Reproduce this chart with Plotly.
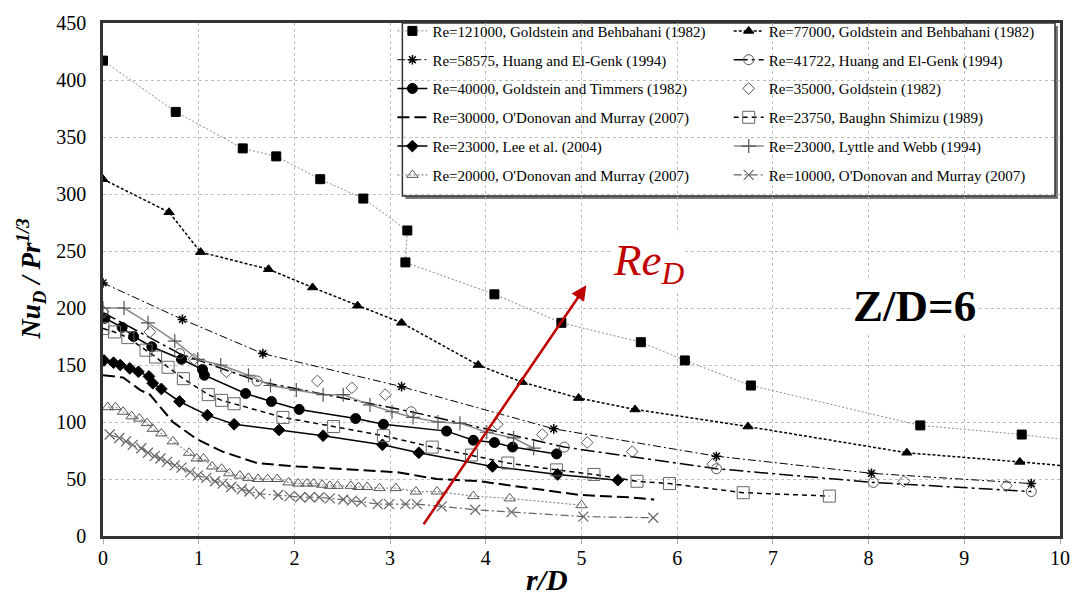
import plotly.graph_objects as go

# ---------------- data ----------------
r_121000 = [0, 0.76, 1.46, 1.81, 2.27, 2.72, 3.18, 3.16, 4.09, 4.79, 5.62, 6.08, 6.77, 8.54, 9.60, 10.4]
nu_121000 = [417, 372, 340, 333, 313, 296, 268, 240, 212, 187, 170, 154, 132, 97, 89, 81]

r_77000 = [0, 0.69, 1.02, 1.73, 2.19, 2.66, 3.12, 3.92, 4.38, 4.97, 5.56, 6.74, 8.40, 9.58, 10.4]
nu_77000 = [313, 284, 249, 234, 218, 202, 187, 150, 135, 121, 111, 96, 73, 65, 59]

r_58575 = [0, 0.83, 1.67, 3.12, 4.71, 6.41, 8.03, 9.70]
nu_58575 = [222, 190, 160, 131, 94, 70, 55, 46]

r_41722 = [0, 0.80, 1.61, 3.22, 4.82, 6.41, 8.05, 9.70]
nu_41722 = [196, 160, 136, 109, 78, 59, 47, 39]

r_40000 = [0.02, 0.20, 0.32, 0.51, 0.82, 1.04, 1.06, 1.49, 1.76, 2.05, 2.64, 2.93, 3.59, 3.87, 4.09, 4.28, 4.74]
nu_40000 = [191, 183, 175, 166, 155, 146, 141, 125, 118, 111, 103, 98, 92, 84, 82, 78, 72]

r_35000 = [0, 0.49, 0.95, 1.29, 2.24, 2.60, 2.95, 4.12, 4.59, 5.06, 5.53, 6.37, 8.37, 9.44]
nu_35000 = [197, 179, 155, 144, 136, 130, 124, 98, 89, 82, 74, 63, 48, 44]

r_30000 = [0, 0.21, 0.39, 0.49, 0.73, 0.98, 1.25, 1.61, 2.03, 2.44, 3.07, 3.49, 3.94, 4.46, 4.98, 5.50, 5.76]
nu_30000 = [141, 139, 128, 124, 100, 85, 74, 64, 61, 59, 56, 50, 48, 42, 36, 34, 32]

r_23750 = [0, 0.12, 0.26, 0.45, 0.55, 0.68, 0.84, 1.10, 1.24, 1.37, 1.88, 2.41, 2.93, 3.44, 3.85, 4.23,
           4.74, 5.13, 5.58, 5.92, 6.69, 7.59]
nu_23750 = [182, 179, 174, 163, 157, 148, 138, 124, 119, 116, 104, 96, 88, 78, 71, 64,
            58, 54, 48, 46, 38, 35]

r_lee = [0.01, 0.11, 0.18, 0.28, 0.37, 0.48, 0.52, 0.61, 0.80, 1.09, 1.37, 1.84, 2.30, 2.92, 3.30,
         4.07, 4.75, 5.38]
nu_lee = [154, 152, 150, 147, 144, 140, 134, 129, 118, 106, 98, 93, 88, 80, 73, 61, 54, 49]

r_lyttle = [0, 0.22, 0.47, 0.75, 0.99, 1.23, 1.52, 1.75, 2.02, 2.30, 2.51, 2.79, 3.02, 3.24, 3.50,
            3.73, 4.01, 4.29, 4.50]
nu_lyttle = [200, 200, 187, 171, 155, 150, 141, 132, 128, 124, 124, 115, 109, 104, 100, 99, 91, 86, 77]

r_20000 = [0.05, 0.13, 0.21, 0.30, 0.38, 0.46, 0.52, 0.61, 0.73, 0.90, 0.98, 1.05, 1.14, 1.24, 1.32,
           1.43, 1.52, 1.62, 1.72, 1.82, 1.94, 2.04, 2.13, 2.20, 2.29, 2.37, 2.45, 2.59, 2.67, 2.76,
           2.89, 3.06, 3.27, 3.49, 3.87, 4.25, 5.00]
nu_20000 = [113, 113, 109, 105, 103, 99, 94, 90, 83, 73, 68, 68, 61, 59, 55,
            53, 51, 50, 50, 50, 47, 46, 46, 46, 45, 44, 44, 44, 43, 43,
            42, 42, 39, 39, 35, 33, 27]

r_10000 = [0.07, 0.17, 0.24, 0.31, 0.40, 0.47, 0.54, 0.60, 0.67, 0.75, 0.82, 0.91, 0.99, 1.08, 1.17,
           1.25, 1.34, 1.45, 1.53, 1.64, 1.83, 1.95, 2.06, 2.16, 2.26, 2.37, 2.51, 2.60, 2.70, 2.87,
           2.99, 3.16, 3.28, 3.54, 3.89, 4.27, 5.02, 5.75]
nu_10000 = [89, 86, 83, 80, 77, 73, 70, 68, 65, 62, 60, 56, 53, 51, 48,
            46, 43, 41, 39, 37, 36, 35, 34, 34, 34, 33, 32, 31, 30, 28,
            28, 28, 28, 26, 23, 21, 17, 16]

arrow_tail = (3.34, 9)
arrow_head = (5.05, 220)

x_ticks = list(range(0, 11))
y_ticks = list(range(0, 451, 50))

# ---------------- layout geometry ----------------
W, H = 1082, 605
ML, MR, MT, MB = 103, 20, 14, 69
PW, PH = W - ML - MR, H - MT - MB


def px_x(p):
    return (p - ML) / PW


def px_y(p):
    return (H - MB - p) / PH


SERIF = "Liberation Serif, Times New Roman, serif"

fig = go.Figure()


def add(x, y, name, legend, mode="lines+markers", lcolor="black", lwidth=1.5, dash="solid",
        symbol="circle", msize=9, mcolor="black", mlw=1):
    fig.add_trace(go.Scatter(
        x=x, y=y, name=name, mode=mode, legend=legend, legendgroup=name,
        line=dict(color=lcolor, width=lwidth, dash=dash),
        marker=dict(symbol=symbol, size=msize, color=mcolor,
                    line=dict(color=mcolor, width=mlw)),
    ))


add(r_121000, nu_121000, "Re=121000, Goldstein and Behbahani (1982)", "legend",
    lcolor="#8a8a8a", lwidth=1, dash="2px,2px", symbol="square", msize=9)
add(r_58575, nu_58575, "Re=58575, Huang and El-Genk (1994)", "legend",
    lwidth=1, dash="8px,3px,2px,3px", symbol="asterisk-open", msize=8, mlw=1.5)
add(r_40000, nu_40000, "Re=40000, Goldstein and Timmers (1982)", "legend",
    lwidth=1.5, symbol="circle", msize=10)
add(r_30000, nu_30000, "Re=30000, O'Donovan and Murray (2007)", "legend",
    mode="lines", lwidth=2, dash="12px,5px")
add(r_lee, nu_lee, "Re=23000, Lee et al. (2004)", "legend",
    lwidth=1.5, symbol="diamond", msize=9)
add(r_20000, nu_20000, "Re=20000, O'Donovan and Murray (2007)", "legend",
    lcolor="#8a8a8a", lwidth=1.2, dash="2px,2px", symbol="triangle-up-open", msize=10, mcolor="#555555")

add(r_77000, nu_77000, "Re=77000, Goldstein and Behbahani (1982)", "legend2",
    lwidth=1.5, dash="3px,2px", symbol="triangle-up", msize=9)
add(r_41722, nu_41722, "Re=41722, Huang and El-Genk (1994)", "legend2",
    lwidth=1.5, dash="14px,4px,3px,4px", symbol="circle-open", msize=10, mcolor="#555555")
add(r_35000, nu_35000, "Re=35000, Goldstein (1982)", "legend2",
    mode="markers", symbol="diamond-open", msize=9, mcolor="#555555")
add(r_23750, nu_23750, "Re=23750, Baughn Shimizu (1989)", "legend2",
    lwidth=1.5, dash="5px,4px", symbol="square-open", msize=12, mcolor="#666666")
add(r_lyttle, nu_lyttle, "Re=23000, Lyttle and Webb (1994)", "legend2",
    lcolor="#8a8a8a", lwidth=1.5, symbol="cross-thin-open", msize=10, mcolor="#555555", mlw=1.2)
add(r_10000, nu_10000, "Re=10000, O'Donovan and Murray (2007)", "legend2",
    lcolor="#666666", lwidth=1.2, dash="8px,3px,2px,3px", symbol="x-thin-open", msize=10,
    mcolor="#666666", mlw=1.2)

legend_common = dict(
    font=dict(family=SERIF, size=15, color="black"),
    bgcolor="rgba(0,0,0,0)", borderwidth=0, tracegroupgap=6.3,
    xanchor="left", yanchor="top", orientation="v", itemwidth=30,
)

fig.update_layout(
    width=W, height=H,
    margin=dict(l=ML, r=MR, t=MT, b=MB),
    paper_bgcolor="white", plot_bgcolor="white",
    font=dict(family=SERIF, size=20, color="black"),
    showlegend=True,
    legend=dict(x=px_x(393), y=px_y(5.5), **legend_common),
    legend2=dict(x=px_x(730), y=px_y(5.5), **legend_common),
    xaxis=dict(
        range=[0, 10], tickvals=x_ticks, showgrid=True, gridcolor="#bdbdbd",
        griddash="dot", gridwidth=1, zeroline=False,
        showline=True, linecolor="#333333", linewidth=2.5, mirror=True,
        ticks="outside", ticklen=5, tickcolor="#aaaaaa", ticklabelstandoff=-3,
        tickfont=dict(family=SERIF, size=20, color="black"),
    ),
    yaxis=dict(
        range=[0, 450], tickvals=y_ticks, showgrid=True, gridcolor="#bdbdbd",
        griddash="dot", gridwidth=1, zeroline=False,
        showline=True, linecolor="#333333", linewidth=2.5, mirror=True,
        ticks="", ticklabelstandoff=10,
        tickfont=dict(family=SERIF, size=20, color="black"),
    ),
)

# legend box with a light drop shadow
fig.add_shape(type="rect", xref="paper", yref="paper", layer="between",
              x0=px_x(406), x1=px_x(1060), y0=px_y(193), y1=px_y(17),
              fillcolor="#777777", line=dict(width=0))
fig.add_shape(type="rect", xref="paper", yref="paper", layer="between",
              x0=px_x(403), x1=px_x(1057), y0=px_y(190), y1=px_y(14),
              fillcolor="white", line=dict(color="#333333", width=1.5))

annotations = [
    dict(text="<b><i>r/D</i></b>", xref="paper", yref="paper", x=px_x(548), y=px_y(580),
         xanchor="center", yanchor="middle",
         showarrow=False, font=dict(family=SERIF, size=30, color="black")),
    dict(text="<b><i>Nu<sub>D</sub> / Pr<sup>1/3</sup></i></b>", xref="paper", yref="paper",
         x=px_x(30), y=px_y(275), xanchor="center", yanchor="middle", textangle=-90,
         showarrow=False, font=dict(family=SERIF, size=27, color="black")),
    dict(text="<b>Z/D=6</b>", xref="paper", yref="paper", x=px_x(916), y=px_y(302),
         xanchor="center", yanchor="middle",
         showarrow=False, bgcolor="white", font=dict(family=SERIF, size=45, color="black")),
    dict(text="<i>Re<sub>D</sub></i>", xref="paper", yref="paper", x=px_x(650), y=px_y(258),
         xanchor="center", yanchor="middle",
         showarrow=False, bgcolor="white", font=dict(family=SERIF, size=45, color="#c00000")),
    dict(text="", x=arrow_head[0], y=arrow_head[1], ax=arrow_tail[0], ay=arrow_tail[1],
         xref="x", yref="y", axref="x", ayref="y", showarrow=True,
         arrowhead=2, arrowsize=1.2, arrowwidth=2.5, arrowcolor="#c00000"),
]
fig.update_layout(annotations=annotations)

fig.write_html("out.html")
